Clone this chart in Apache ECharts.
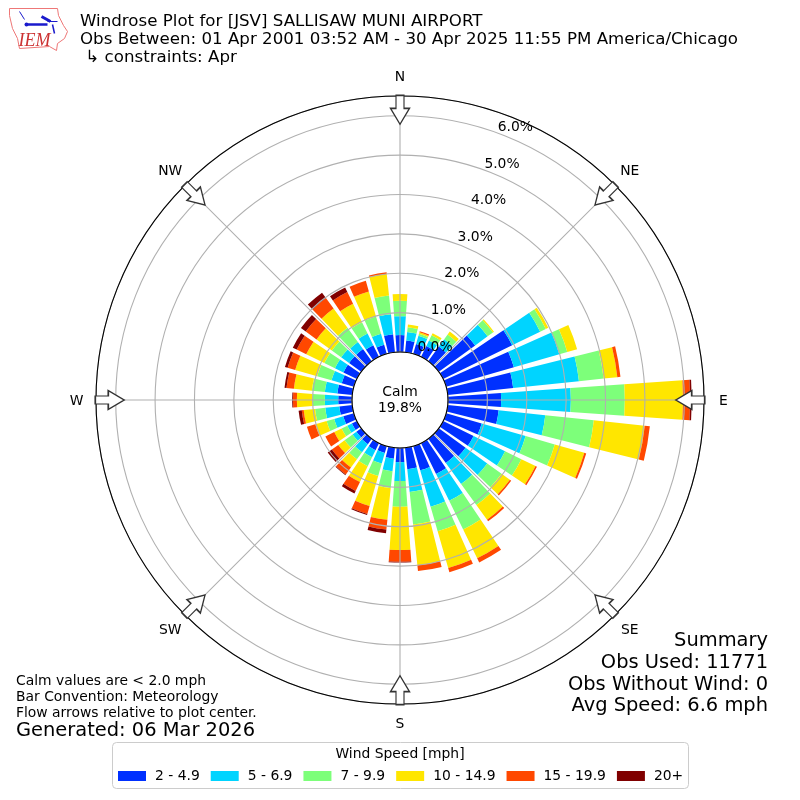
<!DOCTYPE html>
<html><head><meta charset="utf-8"><style>html,body{margin:0;padding:0;background:#fff}#c{width:800px;height:800px}</style>
<script src="https://cdn.jsdelivr.net/npm/echarts@6/dist/echarts.min.js"></script></head>
<body><div id="c"></div>
<script>
const directions = [0,10,20,30,40,50,60,70,80,90,100,110,120,130,140,150,160,170,180,190,200,210,220,230,240,250,260,270,280,290,300,310,320,330,340,350];
const speedNames = ['2 - 4.9','5 - 6.9','7 - 9.9','10 - 14.9','15 - 19.9','20+'];
const speedColors = ['#0030ff','#00d4ff','#7dff7a','#ffe600','#ff4800','#800000'];
const s2to5 = [.43,.30,.26,.31,.46,1.14,1.95,1.79,1.67,1.35,1.30,.94,.86,.84,.76,.87,.64,.55,.36,.28,.18,.20,.17,.15,.14,.28,.33,.35,.38,.32,.38,.38,.38,.33,.24,.46];
const s5to7 = [.48,.22,.22,.15,.23,.39,.79,1.20,1.68,1.77,1.19,1.16,.89,.68,.66,.76,.96,.58,.48,.32,.28,.20,.25,.12,.13,.24,.36,.34,.32,.27,.24,.25,.22,.33,.29,.51];
const s7to10 = [.39,.12,.05,.15,.15,.17,.16,.21,.63,1.37,1.24,.77,.46,.45,.66,.81,.65,.83,.65,.43,.33,.25,.22,.25,.16,.20,.26,.32,.33,.38,.30,.29,.45,.32,.46,.48];
const s10to15 = [.17,.07,.04,.06,.09,.03,.07,.26,.35,1.48,1.30,.78,.40,.26,.46,.81,.97,1.04,1.10,.81,.79,.45,.26,.20,.21,.30,.29,.39,.46,.58,.51,.48,.60,.52,.66,.55];
const s15to20 = [0,0,.03,0,0,0,0,0,.08,.18,.13,.05,.04,.04,.05,.12,.11,.15,.30,.25,.21,.25,.22,.20,.25,.22,.05,.10,.19,.20,.27,.34,.33,.33,.28,.04];
const s20plus = [0,0,0,0,0,0,0,0,0,.04,0,0,0,0,0,0,0,0,.02,.09,.03,.07,.02,.13,0,0,.08,.02,.05,.07,.11,.15,.17,.13,0,0];
const seriesValues = [s2to5,s5to7,s7to10,s10to15,s15to20,s20plus];
const compassNames = ['N','NE','E','SE','S','SW','W','NW'];
const compassAngles = [0,45,90,135,180,225,270,315];
const percentTicks = [0,1,2,3,4,5,6];

const font = 'DejaVu Sans';
const chart = echarts.init(document.getElementById('c'), null, {renderer:'canvas'});
const grey = '#b0b0b0';
const arrowPath = 'path://M-4 0L4 0L4 13L9.5 13L0 29L-9.5 13L-4 13Z';
// tick-label anchor: matplotlib pads the label off the ring, so it sits a little outside ring k
const tickPlace = k => {
  const dx = 35 + 13.4*k, dy = 53 + 36.6*k;
  const r = Math.sqrt(dx*dx+dy*dy);
  return [(r-48)/(256/6.5), Math.atan2(dx,dy)*180/Math.PI];
};
// compass names sit just outside the outer circle, centred on their spoke
const compassOffset = a => {
  const d = a%90===0 ? 19.5 : 21, t = a*Math.PI/180;
  return [Math.sin(t)*d, -Math.cos(t)*d+1];
};
const bars = seriesValues.map((vals,i)=>({
  type:'bar', name:speedNames[i], coordinateSystem:'polar', polarIndex:1, stack:'wind',
  data:vals, barWidth:'80%', silent:true, z:2,
  itemStyle:{color:speedColors[i]}
}));
const option = {
  animation:false,
  backgroundColor:'#fff',
  textStyle:{fontFamily:font},
  polar:[
    {center:[400,400],radius:[48,304]},
    {center:[400,400],radius:[48,304]}
  ],
  angleAxis:[
    {polarIndex:0,type:'value',min:0,max:360,interval:45,startAngle:90,clockwise:true,z:5,
     axisLine:{show:false},axisTick:{show:false},axisLabel:{show:false},
     splitLine:{show:true,lineStyle:{color:grey,width:1.1}}},
    {polarIndex:1,type:'category',data:directions,boundaryGap:true,startAngle:95,clockwise:true,z:7,
     axisLine:{show:true,lineStyle:{color:'#000',width:1.1}},axisTick:{show:false},axisLabel:{show:false},splitLine:{show:false}}
  ],
  radiusAxis:[
    {polarIndex:0,type:'value',min:0,max:6.5,interval:1,z:5,
     axisLine:{show:false},axisTick:{show:false},axisLabel:{show:false},
     splitLine:{show:true,lineStyle:{color:grey,width:1.1}}},
    {polarIndex:1,type:'value',min:0,max:6.5,interval:1,
     axisLine:{show:false},axisTick:{show:false},axisLabel:{show:false},splitLine:{show:false}}
  ],
  legend:{
    show:true,data:speedNames,top:769,left:113,orient:'horizontal',padding:[0,0,0,5],
    icon:'rect',itemWidth:28,itemHeight:10,itemGap:11,z:10,
    textStyle:{fontSize:13.89,color:'#000',fontFamily:font,padding:[0,0,0,4]}
  },
  series:[
    ...bars,
    {type:'scatter',coordinateSystem:'polar',polarIndex:0,silent:true,z:8,
     symbol:arrowPath,symbolSize:[19,29],
     data:compassAngles.map(a=>({value:[6.15,a],symbolRotate:-a})),
     itemStyle:{color:'#fff',borderColor:'#333',borderWidth:1.4,opacity:1}},
    {type:'scatter',coordinateSystem:'polar',polarIndex:0,silent:true,z:9,symbolSize:1,
     itemStyle:{opacity:0},
     data:percentTicks.map(p=>({value:tickPlace(p),name:p.toFixed(1)+'%'})),
     label:{show:true,position:'inside',opacity:1,formatter:p=>p.name,fontSize:13.89,color:'#000',fontFamily:font}},
    {type:'scatter',coordinateSystem:'polar',polarIndex:0,silent:true,z:9,symbolSize:1,
     itemStyle:{opacity:0},
     data:compassAngles.map((a,i)=>({value:[6.5,a],name:compassNames[i],
       label:{show:true,position:'inside',offset:compassOffset(a),opacity:1,formatter:p=>p.name,fontSize:13.89,color:'#000',fontFamily:font}}))}
  ],
  graphic:[
    {type:'rect',z:-1,left:112,top:742,shape:{width:576,height:46,r:4},style:{fill:'#fff',stroke:'#ccc',lineWidth:1}},
    {type:'text',left:'center',top:747,style:{text:'Wind Speed [mph]',font:'13.89px "DejaVu Sans"',fill:'#000'}},
    {type:'text',left:80,top:12.5,style:{text:'Windrose Plot for [JSV] SALLISAW MUNI AIRPORT\nObs Between: 01 Apr 2001 03:52 AM - 30 Apr 2025 11:55 PM America/Chicago\n ↳ constraints: Apr',font:'16.67px "DejaVu Sans"',lineHeight:18,fill:'#000'}},
    {type:'text',x:400,y:400,style:{text:'Calm\n19.8%',font:'13.89px "DejaVu Sans"',lineHeight:16,fill:'#000',align:'center',verticalAlign:'middle'}},
    {type:'text',x:768,y:630.5,style:{text:'Summary\nObs Used: 11771\nObs Without Wind: 0\nAvg Speed: 6.6 mph',font:'19.44px "DejaVu Sans"',lineHeight:21.7,fill:'#000',align:'right'}},
    {type:'text',left:16,top:673,style:{text:'Calm values are < 2.0 mph\nBar Convention: Meteorology\nFlow arrows relative to plot center.',font:'13.89px "DejaVu Sans"',lineHeight:16,fill:'#000'}},
    {type:'text',left:16,top:721,style:{text:'Generated: 06 Mar 2026',font:'19.44px "DejaVu Sans"',fill:'#000'}},
    {type:'group',left:7,top:6,children:[
      {type:'polyline',shape:{points:[[0,1],[48,1],[49,8],[54,18],[58,24],[55,31],[48,36],[47,43],[40,39],[10,41],[8,31],[3,21],[0,8],[0,1]]},style:{fill:'none',stroke:'#e77',lineWidth:1}},
      {type:'text',x:9,y:25,style:{text:'IEM',font:'italic 18px "Liberation Serif"',fill:'#c33'}},
      {type:'line',shape:{x1:18,y1:17,x2:38,y2:17},style:{stroke:'#1a1acc',lineWidth:2.5}},
      {type:'line',shape:{x1:38,y1:14,x2:48,y2:14},style:{stroke:'#1a1acc',lineWidth:1}},
      {type:'line',shape:{x1:10,y1:4,x2:15,y2:12},style:{stroke:'#1a1acc',lineWidth:1}},
      {type:'line',shape:{x1:32,y1:9,x2:41,y2:14},style:{stroke:'#1a1acc',lineWidth:3}},
      {type:'line',shape:{x1:43,y1:17,x2:45,y2:26},style:{stroke:'#1a1acc',lineWidth:1.5}},
      {type:'circle',shape:{cx:17,cy:17,r:2},style:{fill:'#1a1acc'}}
    ]}
  ]
};
chart.setOption(option);
</script></body></html>
